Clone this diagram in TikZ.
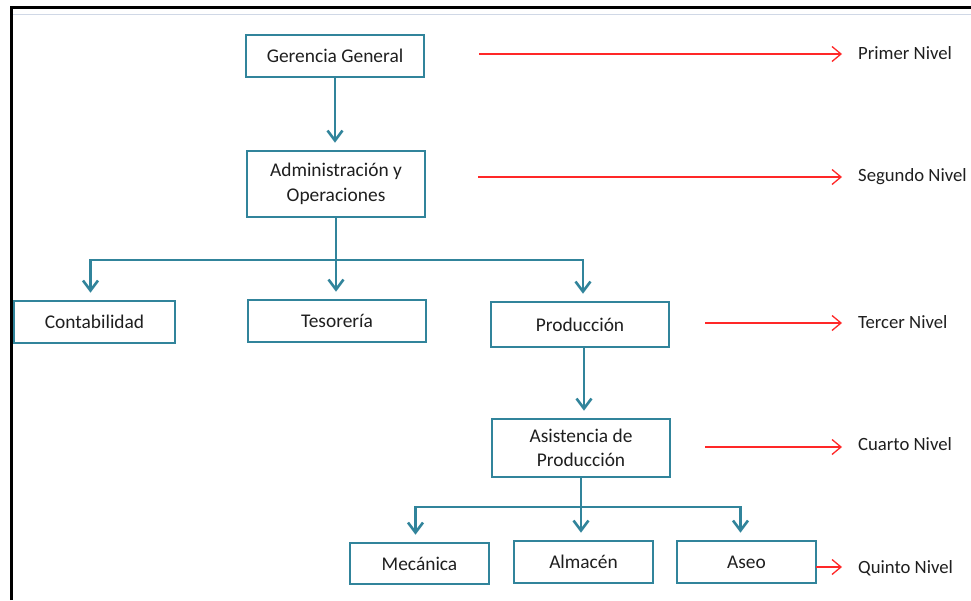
\documentclass[tikz,border=0pt]{standalone}
\usepackage{fontspec}
\setmainfont{Carlito}
\usetikzlibrary{arrows.meta}
\definecolor{teal1}{HTML}{31849B}
\definecolor{redl}{HTML}{FF2828}
\definecolor{faint}{HTML}{D0D8E6}
\begin{document}
\begin{tikzpicture}[x=1pt,y=-1pt,
 box/.style={draw=teal1, line width=2.6pt, fill=white, minimum width=178pt, minimum height=42pt, inner sep=0pt, align=center, font=\fontsize{19.4}{24.5}\selectfont, text=black!88},
 conn/.style={draw=teal1, line width=2.6pt},
 tarr/.style={conn, -{Straight Barb[length=10pt,width=15pt]}, shorten >=7pt},
 rarr/.style={draw=redl, line width=1.3pt, -{Straight Barb[length=9pt,width=15pt]}, shorten >=16pt},
 lvl/.style={anchor=west, inner sep=0pt, text height=12pt, text depth=0pt, font=\fontsize{18.7}{22}\selectfont, text=black!88}]
\useasboundingbox (0,0) rectangle (971,600);
\fill[white] (0,0) rectangle (971,600);
% frame
\draw[line width=2.5pt] (11.5,600) -- (11.5,7.5) -- (971,7.5);
\draw[faint, line width=1pt] (13,14) -- (971,14);

% boxes
\node[box] (g) at (335,56) {Gerencia General};
\node[box, minimum height=66pt] (a) at (336,184) {Administración y\\Operaciones};
\node[box, minimum width=161pt] (c) at (94.5,322) {Contabilidad};
\node[box] (t) at (337,321) {Tesorería};
\node[box, minimum height=45pt] (p) at (580,324.5) {Producción};
\node[box, minimum height=58pt] (as) at (581,448) {Asistencia de\\Producción};
\node[box, minimum width=139pt, minimum height=41pt] (m) at (419.5,563.5) {Mecánica};
\node[box, minimum width=139pt] (al) at (583.5,562) {Almacén};
\node[box, minimum width=139pt] (ae) at (746.5,562) {Aseo};

% teal connectors
\draw[tarr] (g.south) -- (g.south |- a.north);
\coordinate (b1) at (336,260);
\draw[conn] (a.south) -- (b1);
\draw[tarr] (b1) -| ([xshift=-4pt]c.north);
\draw[tarr] (b1) -- (b1 |- t.north);
\draw[tarr] (b1) -| ([xshift=3pt]p.north);
\draw[tarr] ([xshift=4pt]p.south) -- ([xshift=4pt]p.south |- as.north);
\coordinate (b2) at (581,507);
\draw[conn] (as.south) -- (b2);
\draw[tarr] (b2) -| ([xshift=-4pt]m.north);
\draw[tarr] (b2) -- (b2 |- al.north);
\draw[tarr] (b2) -| ([xshift=-6pt]ae.north);

% level labels
\node[lvl] (l1) at (858,53) {Primer Nivel};
\node[lvl] (l2) at (858,175) {Segundo Nivel};
\node[lvl] (l3) at (858,322) {Tercer Nivel};
\node[lvl] (l4) at (858,444) {Cuarto Nivel};
\node[lvl] (l5) at (858,567) {Quinto Nivel};

% red arrows
\coordinate (r1) at (479,54);
\coordinate (r2) at (478,177);
\coordinate (r3) at (705,323);
\coordinate (r4) at (705,447);
\coordinate (r5) at (816,567);
\draw[rarr] (r1) -- (r1 -| l1.west);
\draw[rarr] (r2) -- (r2 -| l2.west);
\draw[rarr] (r3) -- (r3 -| l3.west);
\draw[rarr] (r4) -- (r4 -| l4.west);
\draw[rarr] (r5) -- (r5 -| l5.west);
\end{tikzpicture}
\end{document}
